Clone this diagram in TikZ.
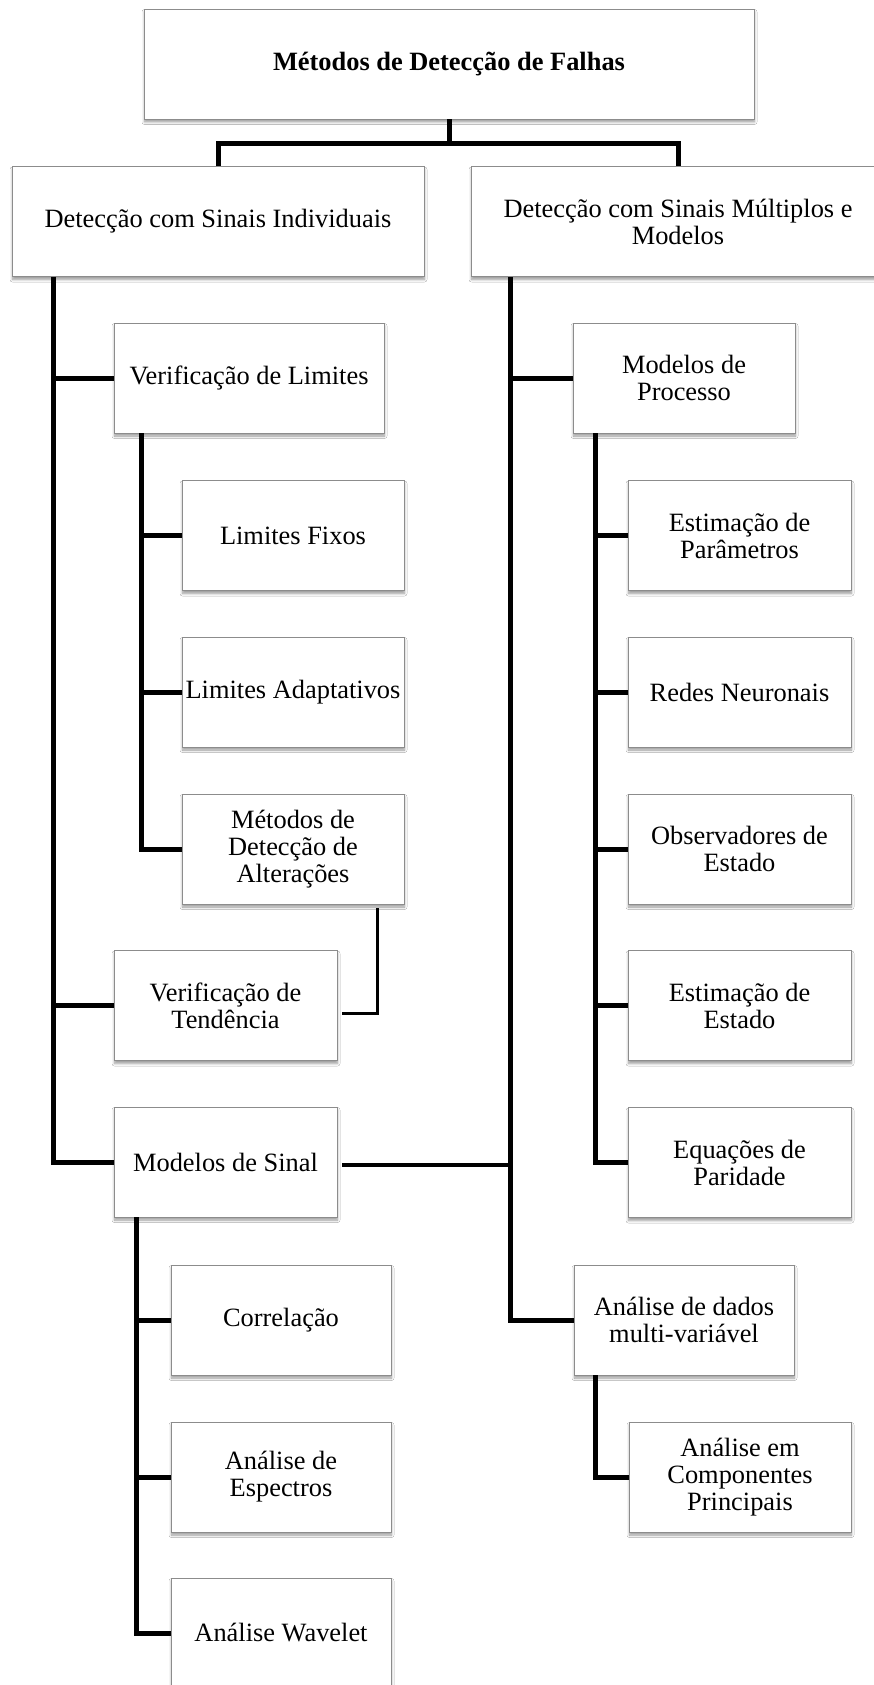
\documentclass[tikz,border=0pt]{standalone}
\usepackage{fontspec}
\setmainfont{Liberation Serif}
\usetikzlibrary{calc,shadows.blur}

\begin{document}
\begin{tikzpicture}[x=1pt,y=-1pt,
  box/.style={draw=black!45, line width=0.9pt, fill=white, align=center,
    inner sep=2pt, font=\fontsize{26.4}{27}\selectfont, minimum height=110pt,
    blur shadow={shadow xshift=0.5pt, shadow yshift=-3pt,
      shadow blur radius=2.5pt, shadow blur steps=6, shadow opacity=40}},
  link/.style={line width=5pt, black},
  thinlink/.style={line width=3.5pt, black}]

\fill[white] (0,0) rectangle (874,1685);
\useasboundingbox (0,0) rectangle (874,1685);

% root
\node[box, font=\fontsize{26.4}{27}\selectfont\bfseries, minimum width=610pt]
  (root) at (449,64) {Métodos de Detecção de Falhas};

% first level
\node[box, minimum width=412pt] (sig) at (218,221.5) {Detecção com Sinais Individuais};
\node[box, minimum width=414pt] (mult) at (678,221.5) {Detecção com Sinais Múltiplos e\\Modelos};

% single-signal branch
\node[box, minimum width=270pt] (vlim) at (249,378)    {Verificação de Limites};
\node[box, minimum width=222pt] (lfix) at (293,535.5)  {Limites Fixos};
\node[box, minimum width=222pt] (lada) at (293,692)    {Limites Adaptativos};
\node[box, minimum width=222pt] (malt) at (293,849)    {Métodos de\\Detecção de\\Alterações};
\node[box, minimum width=223pt] (vten) at (225.5,1005.5) {Verificação de\\Tendência};
\node[box, minimum width=223pt] (msin) at (225.5,1162) {Modelos de Sinal};
\node[box, minimum width=220pt] (corr) at (281,1320)   {Correlação};
\node[box, minimum width=220pt] (espe) at (281,1477)   {Análise de\\Espectros};
\node[box, minimum width=220pt] (wave) at (281,1633)   {Análise Wavelet};

% multi-signal / model branch
\node[box, minimum width=222pt] (mpro) at (684,378)      {Modelos de\\Processo};
\node[box, minimum width=223pt] (epar) at (739.5,535.5)  {Estimação de\\Parâmetros};
\node[box, minimum width=223pt] (rneu) at (739.5,692)    {Redes Neuronais};
\node[box, minimum width=223pt] (obse) at (739.5,849)    {Observadores de\\Estado};
\node[box, minimum width=223pt] (eest) at (739.5,1005.5) {Estimação de\\Estado};
\node[box, minimum width=223pt] (eqpa) at (739.5,1162.5) {Equações de\\Paridade};
\node[box, minimum width=220pt] (adad) at (684,1320)     {Análise de dados\\multi-variável};
\node[box, minimum width=222pt] (acp)  at (740,1477)     {Análise em\\Componentes\\Principais};

% root to first level
\coordinate (fork) at ($(root.south)+(0,24)$);
\draw[link] (root.south) -- (fork);
\draw[link] (sig.north) |- (fork) -| (mult.north);

% left trunk
\coordinate (lt) at ($(sig.south west)+(42,0)$);
\draw[link] (lt) |- (msin.west);
\draw[link] (lt |- vlim.west) -- (vlim.west);
\draw[link] (lt |- vten.west) -- (vten.west);

% under limit checking
\coordinate (vt) at ($(vlim.south west)+(28,0)$);
\draw[link] (vt) |- (malt.west);
\draw[link] (vt |- lfix.west) -- (lfix.west);
\draw[link] (vt |- lada.west) -- (lada.west);

% change detection to trend checking
\draw[thinlink] ($(malt.south east)+(-27,4)$) |- ($(vten.east)+(5,8)$);

% right trunk
\coordinate (rt) at ($(mult.south west)+(40,0)$);
\draw[link] (rt) |- (adad.west);
\draw[link] (rt |- mpro.west) -- (mpro.west);
\coordinate (mse) at ($(msin.east)+(5,3)$);
\draw[thinlink] (mse) -- (mse -| rt);

% under process models
\coordinate (mt) at ($(mpro.south west)+(23,0)$);
\draw[link] (mt) |- (eqpa.west);
\foreach \n in {epar,rneu,obse,eest}
  \draw[link] (mt |- \n.west) -- (\n.west);

% under signal models
\coordinate (st) at ($(msin.south west)+(23,0)$);
\draw[link] (st) |- (wave.west);
\draw[link] (st |- corr.west) -- (corr.west);
\draw[link] (st |- espe.west) -- (espe.west);

% under multivariate analysis
\coordinate (adt) at ($(adad.south west)+(22,0)$);
\draw[link] (adt) |- (acp.west);

\end{tikzpicture}
\end{document}
